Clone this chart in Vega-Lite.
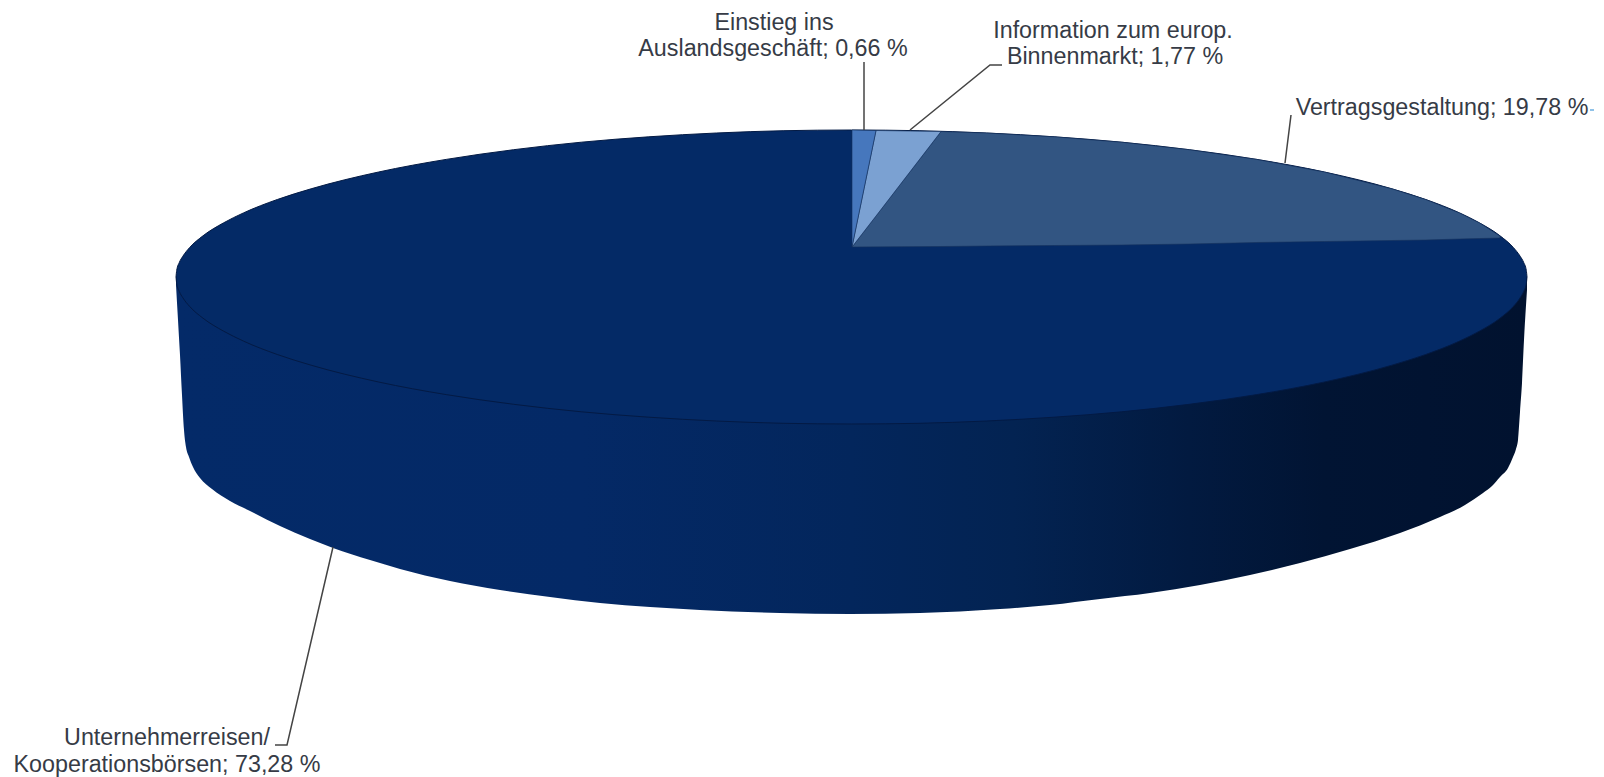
{
"$schema":"https://vega.github.io/schema/vega-lite/v6.json",
"width":1604,"height":777,"padding":0,
"autosize":{"type":"fit","contains":"padding"},
"background":"#ffffff",
"config":{"view":{"stroke":null}},
"datasets":{
"side":[{"x":176,"top":277,"edge":285},{"x":178,"top":277,"edge":320},{"x":180,"top":277,"edge":355},{"x":182,"top":277,"edge":395},{"x":184,"top":277,"edge":430},{"x":186,"top":277,"edge":447},{"x":189,"top":277,"edge":457},{"x":193,"top":277,"edge":467},{"x":200,"top":277,"edge":478},{"x":212,"top":277,"edge":489},{"x":230,"top":277,"edge":501},{"x":250,"top":277,"edge":511},{"x":280,"top":277,"edge":526},{"x":310,"top":277,"edge":539},{"x":333,"top":277,"edge":548},{"x":370,"top":277,"edge":560},{"x":400,"top":277,"edge":569},{"x":450,"top":277,"edge":581},{"x":500,"top":277,"edge":590},{"x":550,"top":277,"edge":597},{"x":600,"top":277,"edge":603},{"x":650,"top":277,"edge":607},{"x":700,"top":277,"edge":610},{"x":780,"top":277,"edge":613},{"x":850,"top":277,"edge":614},{"x":920,"top":277,"edge":613},{"x":1000,"top":277,"edge":609},{"x":1050,"top":277,"edge":605},{"x":1100,"top":277,"edge":599},{"x":1150,"top":277,"edge":593},{"x":1200,"top":277,"edge":585},{"x":1250,"top":277,"edge":575},{"x":1300,"top":277,"edge":563},{"x":1350,"top":277,"edge":549},{"x":1400,"top":277,"edge":533},{"x":1440,"top":277,"edge":517},{"x":1465,"top":277,"edge":505},{"x":1483,"top":277,"edge":493},{"x":1492,"top":277,"edge":486},{"x":1500,"top":277,"edge":477},{"x":1508,"top":277,"edge":468},{"x":1513,"top":277,"edge":457},{"x":1516,"top":277,"edge":449},{"x":1518,"top":277,"edge":440},{"x":1520,"top":277,"edge":412},{"x":1522,"top":277,"edge":383},{"x":1524,"top":277,"edge":340},{"x":1527,"top":277,"edge":290}],
"disc":[{"x":176,"top":277,"edge":277},{"x":176.7,"top":270.4,"edge":283.6},{"x":179.4,"top":262.3,"edge":291.7},{"x":182.8,"top":256.3,"edge":297.7},{"x":189.5,"top":247.7,"edge":306.3},{"x":203,"top":235.8,"edge":318.2},{"x":223.3,"top":223,"edge":331},{"x":243.5,"top":212.9,"edge":341.1},{"x":277.3,"top":199.5,"edge":354.5},{"x":311.1,"top":188.8,"edge":365.2},{"x":378.6,"top":172,"edge":382},{"x":446.2,"top":159.4,"edge":394.6},{"x":513.7,"top":149.7,"edge":404.3},{"x":581.3,"top":142.2,"edge":411.8},{"x":648.8,"top":136.8,"edge":417.2},{"x":716.4,"top":133,"edge":421},{"x":783.9,"top":130.7,"edge":423.3},{"x":851.5,"top":130,"edge":424},{"x":919.1,"top":130.7,"edge":423.3},{"x":986.6,"top":133,"edge":421},{"x":1054.2,"top":136.8,"edge":417.2},{"x":1121.7,"top":142.2,"edge":411.8},{"x":1189.3,"top":149.7,"edge":404.3},{"x":1256.8,"top":159.4,"edge":394.6},{"x":1324.4,"top":172,"edge":382},{"x":1391.9,"top":188.8,"edge":365.2},{"x":1425.7,"top":199.5,"edge":354.5},{"x":1459.5,"top":212.9,"edge":341.1},{"x":1479.7,"top":223,"edge":331},{"x":1500,"top":235.8,"edge":318.2},{"x":1513.5,"top":247.7,"edge":306.3},{"x":1520.2,"top":256.3,"edge":297.7},{"x":1523.6,"top":262.3,"edge":291.7},{"x":1526.3,"top":270.4,"edge":283.6},{"x":1527,"top":277,"edge":277}],
"slices":[
{"slice":"Vertragsgestaltung","x":852,"top":247,"edge":247},{"slice":"Vertragsgestaltung","x":941,"top":131.5,"edge":246.5},{"slice":"Vertragsgestaltung","x":986.6,"top":133,"edge":246},{"slice":"Vertragsgestaltung","x":1054.2,"top":136.8,"edge":245.5},{"slice":"Vertragsgestaltung","x":1121.7,"top":142.2,"edge":245},{"slice":"Vertragsgestaltung","x":1189.3,"top":149.7,"edge":244},{"slice":"Vertragsgestaltung","x":1256.8,"top":159.4,"edge":242.5},{"slice":"Vertragsgestaltung","x":1324.4,"top":172,"edge":241.5},{"slice":"Vertragsgestaltung","x":1391.9,"top":188.8,"edge":240.5},{"slice":"Vertragsgestaltung","x":1425.7,"top":199.5,"edge":240},{"slice":"Vertragsgestaltung","x":1459.5,"top":212.9,"edge":239},{"slice":"Vertragsgestaltung","x":1479.7,"top":223,"edge":238.5},{"slice":"Vertragsgestaltung","x":1500,"top":236,"edge":238},
{"slice":"Information","x":852,"top":247,"edge":247},{"slice":"Information","x":876,"top":130.5,"edge":216},{"slice":"Information","x":941,"top":131.5,"edge":131.5},
{"slice":"Einstieg","x":852,"top":130,"edge":247},{"slice":"Einstieg","x":876,"top":130.5,"edge":130.5}
],
"leaders":[
{"leader":"a","i":1,"x":864,"y":62},{"leader":"a","i":2,"x":864,"y":130},
{"leader":"b","i":1,"x":1002,"y":65},{"leader":"b","i":2,"x":990,"y":65},{"leader":"b","i":3,"x":910,"y":130},
{"leader":"c","i":1,"x":1291,"y":115},{"leader":"c","i":2,"x":1285,"y":163},
{"leader":"d","i":1,"x":333,"y":547},{"leader":"d","i":2,"x":287,"y":745},{"leader":"d","i":3,"x":275,"y":745}
],
"tick":[{"i":1,"x":1590,"y":110},{"i":2,"x":1594,"y":110}],
"labels":[
{"text":"Einstieg ins","share":0.66,"x":774,"y":23},
{"text":"Auslandsgeschäft; 0,66 %","share":0.66,"x":773,"y":49},
{"text":"Information zum europ.","share":1.77,"x":1113,"y":31},
{"text":"Binnenmarkt; 1,77 %","share":1.77,"x":1115,"y":57},
{"text":"Vertragsgestaltung; 19,78 %","share":19.78,"x":1442,"y":108},
{"text":"Unternehmerreisen/","share":73.28,"x":167,"y":738},
{"text":"Kooperationsbörsen; 73,28 %","share":73.28,"x":167,"y":765}
]},
"encoding":{
"x":{"field":"x","type":"quantitative","axis":null,"scale":{"domain":[0,1604],"nice":false,"zero":false}}
},
"layer":[
{"data":{"name":"side"},
"mark":{"type":"area","interpolate":"monotone","color":{"gradient":"linear","x1":0,"y1":0,"x2":1,"y2":0,"stops":[{"offset":0,"color":"#042a68"},{"offset":0.3,"color":"#042966"},{"offset":0.5,"color":"#03265c"},{"offset":0.62,"color":"#032352"},{"offset":0.75,"color":"#021a40"},{"offset":0.85,"color":"#011433"},{"offset":1,"color":"#01122f"}]}},
"encoding":{"y":{"field":"top","type":"quantitative","axis":null,"scale":{"domain":[0,777],"reverse":true,"nice":false,"zero":false}},"y2":{"field":"edge"}}},
{"data":{"name":"disc"},
"mark":{"type":"area","interpolate":"monotone","color":"#042a66","stroke":"#031a44","strokeWidth":1},
"encoding":{"y":{"field":"top","type":"quantitative"},"y2":{"field":"edge"}}},
{"data":{"name":"slices"},
"mark":{"type":"area","stroke":"#14305c","strokeWidth":0.6},
"encoding":{"y":{"field":"top","type":"quantitative"},"y2":{"field":"edge"},"detail":{"field":"slice"},
"color":{"field":"slice","type":"nominal","legend":null,"scale":{"domain":["Vertragsgestaltung","Information","Einstieg"],"range":["#325582","#7ba1d2","#4677bd"]}}}},
{"data":{"name":"leaders"},
"mark":{"type":"line","color":"#444444","strokeWidth":1.5},
"encoding":{"y":{"field":"y","type":"quantitative"},"detail":{"field":"leader"},"order":{"field":"i","type":"ordinal"}}},
{"data":{"name":"tick"},
"mark":{"type":"line","color":"#6aaee0","strokeWidth":1.5},
"encoding":{"y":{"field":"y","type":"quantitative"},"order":{"field":"i","type":"ordinal"}}},
{"data":{"name":"labels"},
"mark":{"type":"text","font":"Liberation Sans","fontSize":23.3,"color":"#363b46","align":"center","baseline":"middle"},
"encoding":{"y":{"field":"y","type":"quantitative"},"text":{"field":"text"}}}
]
}
